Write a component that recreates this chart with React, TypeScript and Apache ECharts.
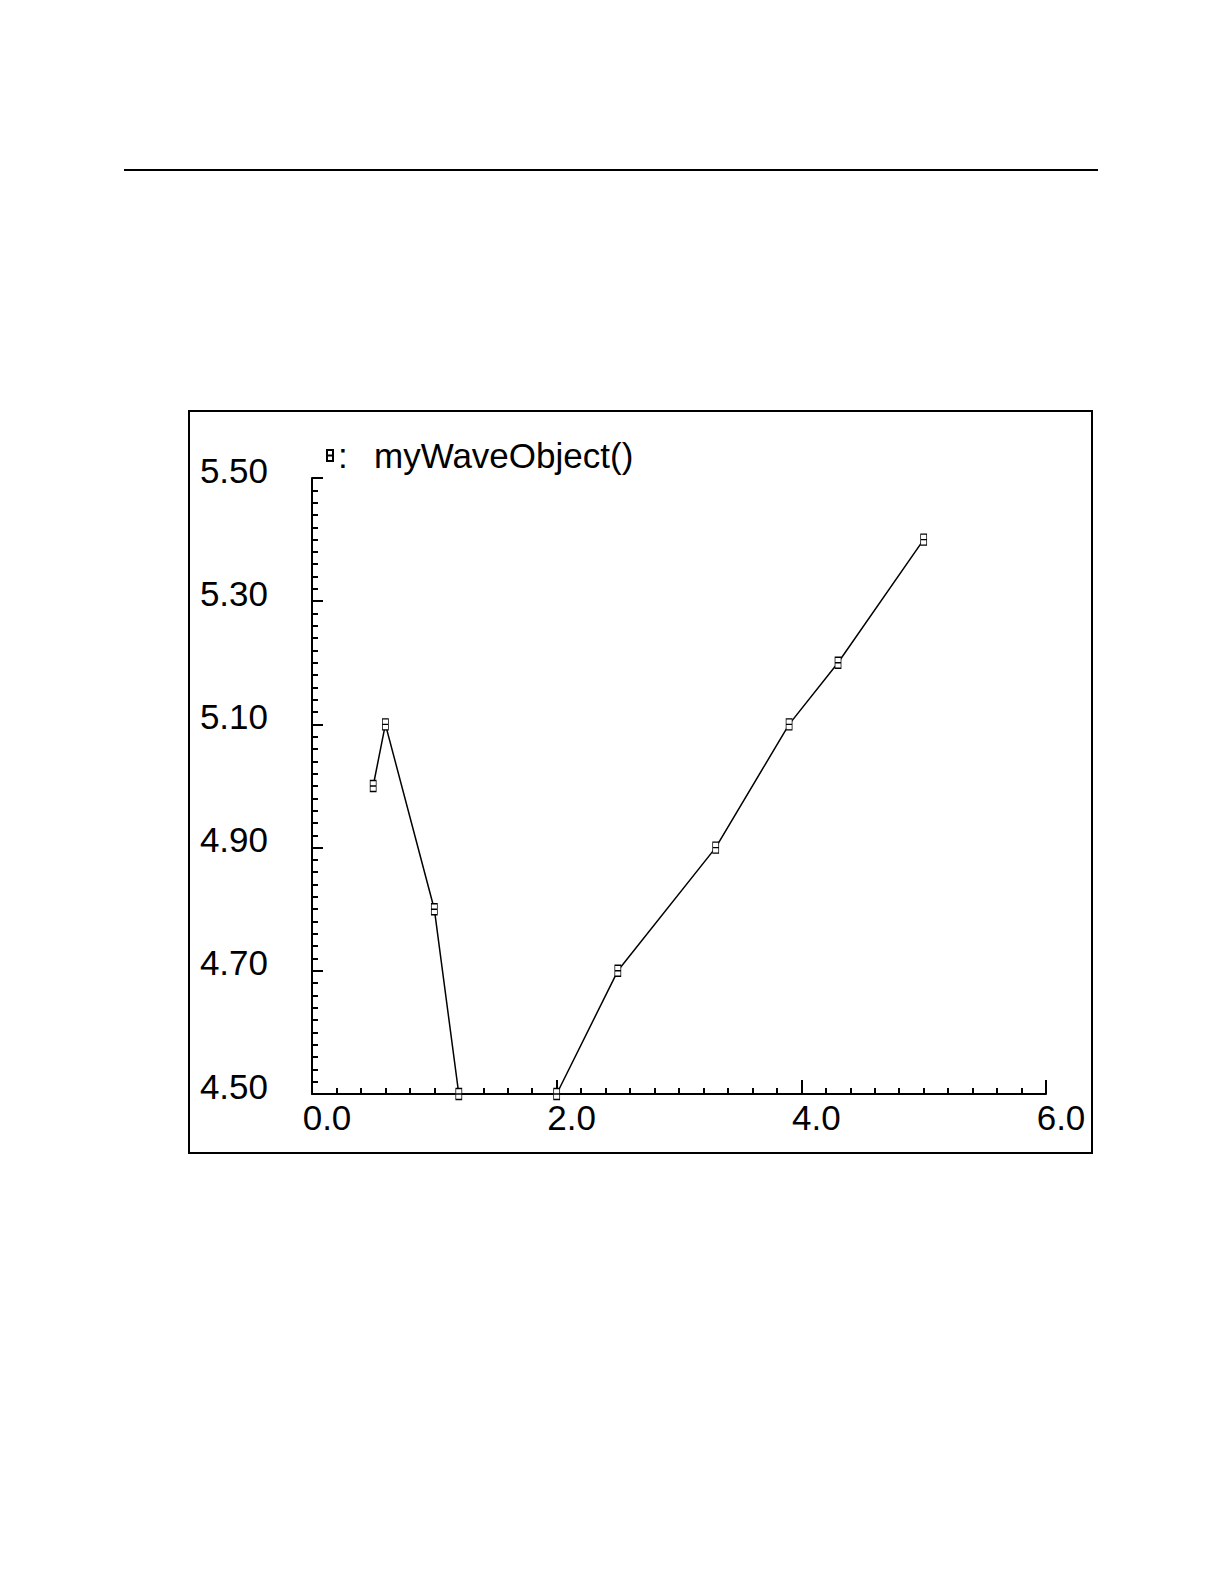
import React, { useEffect, useRef } from 'react';
import * as echarts from 'echarts';

// Data
const xValues = [0.5, 0.6, 1.0, 1.2, 2.0, 2.5, 3.3, 3.9, 4.3, 5.0];
const yValues = [5.0, 5.1, 4.8, 4.5, 4.5, 4.7, 4.9, 5.1, 5.2, 5.4];
const seriesName = 'myWaveObject()';
const xTicks = [0, 2, 4, 6];
const yTicks = [4.5, 4.7, 4.9, 5.1, 5.3, 5.5];

const markerPath = 'path://M0,0H6V11H0Z M0,5.5H6';
const FONT = 'Liberation Sans';

export default function App() {
  const ref = useRef<HTMLDivElement>(null);
  useEffect(() => {
    if (!ref.current) return;
    const chart = echarts.init(ref.current, null, { renderer: 'svg' });
    const axisCommon = {
      type: 'value',
      axisLine: { show: true, onZero: false, lineStyle: { color: '#000', width: 2 } },
      minorTick: { show: true, splitNumber: 10, length: 6, lineStyle: { color: '#000', width: 2 } },
      splitLine: { show: false },
      minorSplitLine: { show: false },
    };
    const option = {
      animation: false,
      backgroundColor: '#ffffff',
      textStyle: { fontFamily: FONT },
      grid: { left: 312, top: 478, right: 178, bottom: 490, containLabel: false },
      xAxis: {
        ...axisCommon,
        min: xTicks[0],
        max: xTicks[xTicks.length - 1],
        interval: xTicks[1] - xTicks[0],
        axisTick: { show: true, inside: true, length: 14, lineStyle: { color: '#000', width: 2 } },
        axisLabel: {
          show: true,
          formatter: (v: number) => v.toFixed(1),
          color: '#000',
          fontSize: 35,
          fontFamily: FONT,
          lineHeight: 35,
          margin: 6,
          padding: [0, 0, 0, 30],
          showMinLabel: true,
          showMaxLabel: true,
        },
      },
      yAxis: {
        ...axisCommon,
        min: yTicks[0],
        max: yTicks[yTicks.length - 1],
        interval: +(yTicks[1] - yTicks[0]).toFixed(2),
        axisTick: { show: true, inside: true, length: 11, lineStyle: { color: '#000', width: 2 } },
        axisLabel: {
          show: true,
          formatter: (v: number) => v.toFixed(2),
          color: '#000',
          fontSize: 35,
          fontFamily: FONT,
          lineHeight: 16,
          verticalAlign: 'bottom',
          margin: 44,
          showMinLabel: true,
          showMaxLabel: true,
        },
      },
      legend: {
        show: true,
        left: 326,
        top: 438,
        padding: 0,
        itemWidth: 6,
        itemHeight: 11,
        itemGap: 0,
        data: [{ name: seriesName, icon: markerPath }],
        formatter: (name: string) => '{c|:}{n|' + name + '}',
        textStyle: {
          color: '#000',
          fontSize: 35,
          fontFamily: FONT,
          rich: {
            c: { fontSize: 35, fontFamily: FONT, color: '#000', width: 36, lineHeight: 40 },
            n: { fontSize: 35, fontFamily: FONT, color: '#000', lineHeight: 40 },
          },
        },
      },
      graphic: [
        { type: 'line', shape: { x1: 124, y1: 170, x2: 1098, y2: 170 }, style: { stroke: '#000', lineWidth: 2 } },
        { type: 'rect', shape: { x: 189, y: 411, width: 903, height: 742 }, style: { fill: 'none', stroke: '#000', lineWidth: 2 } },
      ],
      series: [
        {
          type: 'line',
          name: seriesName,
          data: xValues.map((x, i) => [x, yValues[i]]),
          symbol: markerPath,
          symbolSize: [6, 11],
          showAllSymbol: true,
          lineStyle: { color: '#000', width: 1.5 },
          itemStyle: { color: '#fff', borderColor: '#000', borderWidth: 1 },
          clip: false,
          z: 3,
        },
      ],
    };
    chart.setOption(option as any);
    return () => chart.dispose();
  }, []);
  return <div ref={ref} style={{ position: 'absolute', left: 0, top: 0, width: 1224, height: 1584 }} />;
}
